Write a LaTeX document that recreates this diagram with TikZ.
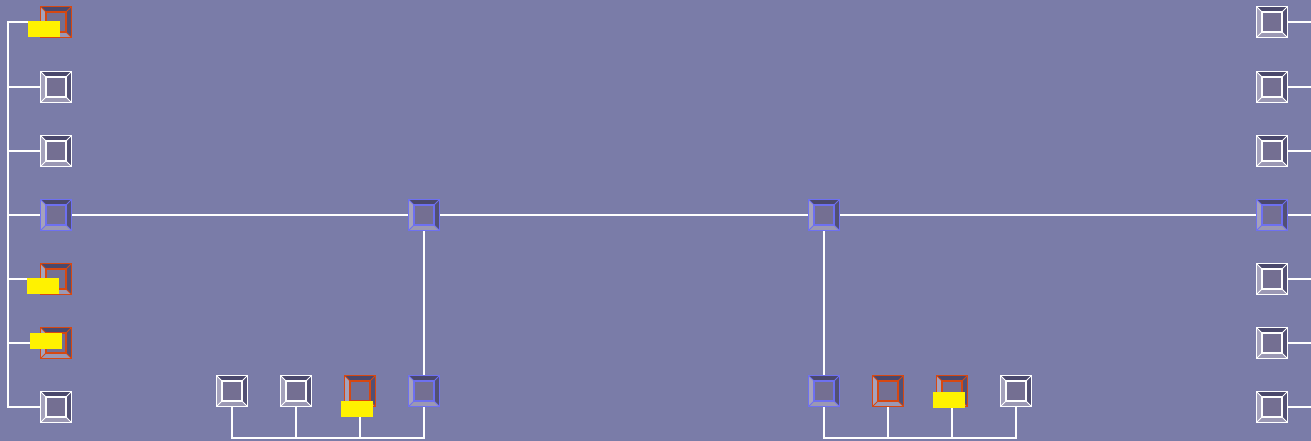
\documentclass[tikz,border=0pt]{standalone}
\usetikzlibrary{calc}
\definecolor{bgcol}{RGB}{122,124,168}
\definecolor{boxfill}{RGB}{116,111,146}
\definecolor{bevdark}{RGB}{74,72,108}
\definecolor{bevlight}{RGB}{165,162,188}
\definecolor{portorange}{RGB}{214,72,18}
\definecolor{portblue}{RGB}{110,112,240}
\tikzset{
    wire/.style={draw=white, line width=1.4pt},
    port/.style={draw=#1, line width=1.8pt, fill=boxfill, minimum size=31pt, inner sep=0pt,
        path picture={
            \coordinate (pnw) at (path picture bounding box.north west);
            \coordinate (pse) at (path picture bounding box.south east);
            \coordinate (pne) at (path picture bounding box.north east);
            \coordinate (psw) at (path picture bounding box.south west);
            \fill[bevdark] (pnw) -- (pne) -- ($(pne)+(-5.5pt,-5.5pt)$) -- ($(pnw)+(5.5pt,-5.5pt)$) -- cycle;
            \fill[bevdark!80!boxfill] (pne) -- (pse) -- ($(pse)+(-5.5pt,5.5pt)$) -- ($(pne)+(-5.5pt,-5.5pt)$) -- cycle;
            \fill[bevlight] (pnw) -- (psw) -- ($(psw)+(5.5pt,5.5pt)$) -- ($(pnw)+(5.5pt,-5.5pt)$) -- cycle;
            \fill[bevlight!80!boxfill] (psw) -- (pse) -- ($(pse)+(-5.5pt,5.5pt)$) -- ($(psw)+(5.5pt,5.5pt)$) -- cycle;
            \draw[#1, line width=1.8pt] ($(pnw)+(5.5pt,-5.5pt)$) rectangle ($(pse)+(-5.5pt,5.5pt)$);
            \draw[#1, line width=0.9pt] (pnw) -- ++(5.5pt,-5.5pt) (pne) -- ++(-5.5pt,-5.5pt)
                (psw) -- ++(5.5pt,5.5pt) (pse) -- ++(-5.5pt,5.5pt);
        }},
    port/.default=white,
    tag/.style={fill=yellow, minimum width=32pt, minimum height=16pt, inner sep=0pt}
}
\begin{document}
\begin{tikzpicture}[x=1pt, y=-1pt]
    % Fond
    \useasboundingbox (0,0) rectangle (1311,441);
    \fill[bgcol] (0,0) rectangle (1311,441);

    % Colonne gauche
    \node[port=portorange] (l1) at (56,22) {};
    \node[port] (l2) at (56,87) {};
    \node[port] (l3) at (56,151) {};
    \node[port=portblue] (l4) at (56,215) {};
    \node[port=portorange] (l5) at (56,279) {};
    \node[port=portorange] (l6) at (56,343) {};
    \node[port] (l7) at (56,407) {};

    % Colonne droite
    \foreach \i/\y in {1/22,2/87,3/151,5/279,6/343,7/407}
        \node[port] (r\i) at (1272,\y) {};
    \node[port=portblue] (r4) at (1272,215) {};

    % Noeuds du milieu
    \node[port=portblue] (m1) at (424,215) {};
    \node[port=portblue] (m2) at (824,215) {};

    % Rangee du bas
    \node[port] (b1) at (232,391) {};
    \node[port] (b2) at (296,391) {};
    \node[port=portorange] (b3) at (360,391) {};
    \node[port=portblue] (b4) at (424,391) {};
    \node[port=portblue] (c1) at (824,391) {};
    \node[port=portorange] (c2) at (888,391) {};
    \node[port=portorange] (c3) at (952,391) {};
    \node[port] (c4) at (1016,391) {};

    % Bus
    \coordinate (lbus) at (8,0);
    \coordinate (redge) at (1311,0);
    \coordinate (bbus) at (0,438);

    \draw[wire] (l1.west) -- (l1.west -| lbus) -- (l7.west -| lbus) -- (l7.west);
    \foreach \i in {2,...,6}
        \draw[wire] (l\i.west) -- (l\i.west -| lbus);
    \foreach \i in {1,...,7}
        \draw[wire] (r\i.east) -- (r\i.east -| redge);

    \draw[wire] (l4.east) -- (m1.west);
    \draw[wire] (m1.east) -- (m2.west);
    \draw[wire] (m2.east) -- (r4.west);
    \draw[wire] (m1.south) -- (b4.north);
    \draw[wire] (m2.south) -- (c1.north);

    \draw[wire] (b1.south) -- (b1.south |- bbus) -- (b4.south |- bbus) -- (b4.south);
    \foreach \n in {b2,b3}
        \draw[wire] (\n.south) -- (\n.south |- bbus);
    \draw[wire] (c1.south) -- (c1.south |- bbus) -- (c4.south |- bbus) -- (c4.south);
    \foreach \n in {c2,c3}
        \draw[wire] (\n.south) -- (\n.south |- bbus);

    % Marques jaunes
    \node[tag] (t1) at (44,29) {};
    \node[tag] (t5) at (43,286) {};
    \node[tag] (t6) at (46,341) {};
    \node[tag] (t3) at (357,409) {};
    \node[tag] (t4) at (949,400) {};
\end{tikzpicture}
\end{document}
